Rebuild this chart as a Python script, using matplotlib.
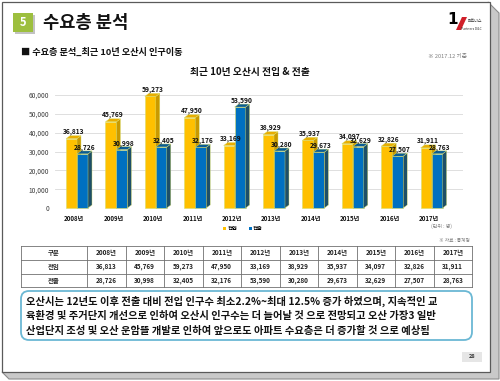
import numpy as np
import matplotlib
matplotlib.use("Agg")
import matplotlib.pyplot as plt
from matplotlib.patches import Polygon, Rectangle, FancyBboxPatch

plt.rcParams['font.family'] = ['Noto Sans CJK KR', 'DejaVu Sans']

# ---- data -------------------------------------------------------------
YEARS = ["2008년", "2009년", "2010년", "2011년", "2012년",
         "2013년", "2014년", "2015년", "2016년", "2017년"]
MOVE_IN = [36813, 45769, 59273, 47950, 33169, 38929, 35937, 34097, 32826, 31911]
MOVE_OUT = [28726, 30998, 32405, 32176, 53590, 30280, 29673, 32629, 27507, 28763]
SERIES = ["전입", "전출"]
Y_TICKS = [0, 10000, 20000, 30000, 40000, 50000, 60000]
TABLE_CORNER = "구분"
NOTE_LINES = [
    "오산시는 12년도 이후 전출 대비 전입 인구수 최소2.2%~최대 12.5% 증가 하였으며, 지속적인 교",
    "육환경 및 주거단지 개선으로 인하여 오산시 인구수는 더 늘어날 것 으로 전망되고 오산 가장3 일반",
    "산업단지 조성 및 오산 운암뜰 개발로 인하여 앞으로도 아파트 수요층은 더 증가할 것 으로 예상됨",
]

YELLOW = ("#FFC000", "#C99A00", "#E8AE00")
BLUE = ("#0070C0", "#1D4F68", "#0A5C95")

W, H = 500, 381
fig = plt.figure(figsize=(5, 3.81), dpi=100)
fig.patch.set_facecolor("white")

# page / slide decoration in pixel coordinates
bg = fig.add_axes([0, 0, 1, 1], zorder=0)
bg.set_xlim(0, W)
bg.set_ylim(H, 0)
bg.axis("off")

bg.add_patch(Polygon([(488, 2), (499, 13), (499, 379), (9, 379), (2, 372), (490, 372)],
                     closed=True, fc="#C9C9C9", ec="#8C8C8C", lw=0.8))
bg.add_patch(Rectangle((2, 2), 488, 370, fc="white", ec="#5A5A5A", lw=0.9))

# header
bg.add_patch(Rectangle((15, 15), 20, 19, fc="#C2C2C2", ec="none"))
bg.add_patch(Rectangle((13, 13), 20, 19, fc="#9DBF3E", ec="none"))
bg.text(23, 22.5, "5", color="white", fontsize=8, weight="bold", ha="center", va="center")
bg.text(43, 23, "수요층 분석", fontsize=12.7, weight="bold", ha="left", va="center", color="#111111")
bg.text(21, 52, "■ 수요층 분석_최근 10년 오산시 인구이동", fontsize=6.6, weight="bold",
        ha="left", va="center", color="#111111")

# logo (approximation)
bg.text(453, 20, "1", fontsize=11, weight="bold", ha="center", va="center",
        family="DejaVu Sans", color="black")
bg.add_patch(Polygon([(456, 30), (462, 17), (467, 17), (461, 30)], closed=True, fc="#D0202A", ec="none"))
bg.text(468, 21.5, "파트너스", fontsize=2.8, ha="left", va="center", color="#333333")
bg.text(482, 28.5, "Partners D&C", fontsize=2.4, ha="right", va="center", color="#333333")

bg.text(467, 56, "※ 2017.12 기준", fontsize=4.1, ha="right", va="center", color="#808080")
bg.text(250, 72, "최근 10년 오산시 전입 & 전출", fontsize=7, weight="bold",
        ha="center", va="center", color="#111111")
bg.text(452, 226, "(단위 : 명)", fontsize=3.6, ha="right", va="center", color="#808080")
bg.text(470, 241, "※ 자료 : 통계청", fontsize=3.4, ha="right", va="center", color="#808080")

# ---- chart --------------------------------------------------------------
PX_X = 39.4                    # pixels per category
PX_Y = 113 / 60000             # pixels per person
ax = fig.add_axes([55 / W, 1 - 208 / H, 408 / W, 113 / H], zorder=1)
ax.patch.set_alpha(0)
ax.set_xlim(-(77 - 55) / PX_X, (463 - 77) / PX_X)
ax.set_ylim(0, 60000)

BW = 11 / PX_X
DX = 4 / PX_X
DY = 3 / PX_Y


def bar3d(x0, h, colors, z):
    front, side, top = colors
    ax.bar(x0, h, width=BW, align="edge", color=front, edgecolor="#D8DE6A",
           lw=0.4, zorder=z, clip_on=False)
    ax.add_patch(Polygon([(x0 + BW, 0), (x0 + BW + DX, DY), (x0 + BW + DX, h + DY), (x0 + BW, h)],
                         closed=True, fc=side, ec="#D8DE6A", lw=0.3, zorder=z, clip_on=False))
    ax.add_patch(Polygon([(x0, h), (x0 + BW, h), (x0 + BW + DX, h + DY), (x0 + DX, h + DY)],
                         closed=True, fc=top, ec="#D8DE6A", lw=0.3, zorder=z, clip_on=False))


x = np.arange(len(YEARS))
for i, (vin, vout) in enumerate(zip(MOVE_IN, MOVE_OUT)):
    bar3d(x[i] - BW, vin, YELLOW, 3)
    bar3d(x[i], vout, BLUE, 4)
    ax.text(x[i] - BW / 2 + DX / 2, vin + 7 / PX_Y, f"{vin:,}", fontsize=4.8, weight="bold",
            ha="center", va="center", zorder=6, color="#111111")
    ax.text(x[i] + BW / 2 + DX / 2, vout + 6.5 / PX_Y, f"{vout:,}", fontsize=4.8, weight="bold",
            ha="center", va="center", zorder=6, color="#111111")

ax.set_yticks(Y_TICKS)
ax.set_yticklabels([f"{v:,}" for v in Y_TICKS])
ax.set_xticks(x - 0.07)
ax.set_xticklabels(YEARS, fontweight="bold")
ax.tick_params(axis="y", length=0, pad=4, labelsize=4.8, labelcolor="#404040")
ax.tick_params(axis="x", length=0, pad=5, labelsize=4.4, labelcolor="#111111")
ax.yaxis.grid(True, color="#D9D9D9", lw=0.6)
ax.set_axisbelow(True)
for s in ax.spines.values():
    s.set_visible(False)

handles = [Rectangle((0, 0), 1, 1, fc=YELLOW[0]), Rectangle((0, 0), 1, 1, fc=BLUE[0])]
fig.legend(handles, SERIES, loc="center", bbox_to_anchor=(243 / W, 1 - 229 / H), ncol=2,
           frameon=False, prop={"size": 3.8, "weight": "bold"}, handlelength=0.6,
           handleheight=0.6, handletextpad=0.2, columnspacing=2.2)

# ---- table --------------------------------------------------------------
col_edges = [21, 87] + [87 + 38.5 * k for k in range(1, len(YEARS) + 1)]
row_edges = [246, 260, 273.5, 287]
for yy in row_edges:
    bg.plot([col_edges[0], col_edges[-1]], [yy, yy], color="#707070", lw=0.6)
for xx in col_edges:
    bg.plot([xx, xx], [row_edges[0], row_edges[-1]], color="#707070", lw=0.6)

rows = [
    [TABLE_CORNER] + YEARS,
    [SERIES[0]] + [f"{v:,}" for v in MOVE_IN],
    [SERIES[1]] + [f"{v:,}" for v in MOVE_OUT],
]
for r, cells in enumerate(rows):
    yc = (row_edges[r] + row_edges[r + 1]) / 2
    for c, txt in enumerate(cells):
        xc = (col_edges[c] + col_edges[c + 1]) / 2
        bg.text(xc, yc, txt, fontsize=4.6, weight="bold", ha="center", va="center", color="#222222")

# ---- note box -----------------------------------------------------------
bg.add_patch(FancyBboxPatch((21, 291), 451, 49, boxstyle="round,pad=0,rounding_size=8",
                            fc="white", ec="#6BB8D4", lw=1.3))
for k, line in enumerate(NOTE_LINES):
    bg.text(26, 301 + 15 * k, line, fontsize=7.4, weight="bold", ha="left", va="center",
            color="#111111")

# page number
bg.add_patch(Rectangle((462, 352), 20, 10, fc="#E6E6E6", ec="none"))
bg.text(472, 357, "28", fontsize=4, weight="bold", ha="center", va="center", color="#333333")

fig.savefig("out.png", dpi=100)
